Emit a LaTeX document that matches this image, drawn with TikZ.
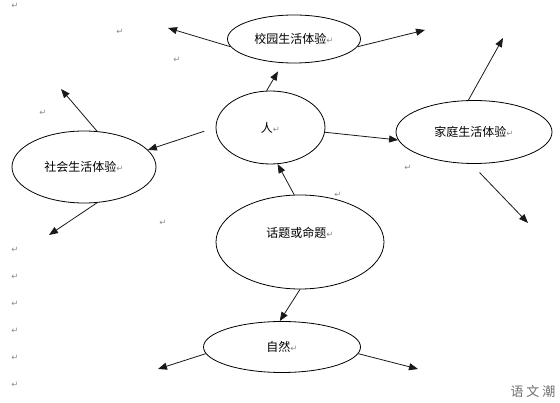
\documentclass[tikz,border=0pt]{standalone}
\usepackage{fontspec}
\usetikzlibrary{shapes.geometric, arrows.meta}
\newfontfamily\cjk{Noto Sans CJK SC}
\newfontfamily\symfont{DejaVu Sans}
\definecolor{markGray}{HTML}{8C8C8C}
\definecolor{wmGray}{HTML}{6E6E6E}
\newcommand{\retmark}{{\symfont\fontsize{8.5}{8.5}\selectfont\textcolor{markGray}{↵}}}
\tikzset{
  >={Triangle[length=9pt, width=7pt]},
  bubble/.style={ellipse, draw, line width=0.8pt, inner sep=0pt,
    font=\cjk\fontsize{12}{12}\selectfont},
  link/.style={->, line width=0.8pt, draw=black!90},
  pmark/.style={font=\symfont\fontsize{8.5}{8.5}\selectfont, text=markGray, inner sep=0pt},
  wmark/.style={font=\cjk\fontsize{13}{13}\selectfont, text=wmGray, inner sep=0pt},
}

\begin{document}
\begin{tikzpicture}[x=1pt, y=-1pt]
  \useasboundingbox (0,0) rectangle (560,403);

  % ---- Nodes -------------------------------------------------------------
  \node[bubble, minimum width=133, minimum height=48] (campus)  at (294,39)    {校园生活体验\retmark};
  \node[bubble, minimum width=109, minimum height=73] (person)  at (270.5,127.5) {人\retmark};
  \node[bubble, minimum width=144, minimum height=72] (society) at (84,167)    {社会生活体验\retmark};
  \node[bubble, minimum width=156, minimum height=63] (family)  at (474,132)   {家庭生活体验\retmark};
  \node[bubble, minimum width=168, minimum height=94, text depth=20pt] (topic) at (300,242) {话题或命题\retmark};
  \node[bubble, minimum width=157, minimum height=51] (nature)  at (282,347)   {自然\retmark};

  % loose arrow ends
  \coordinate (campusNW)  at (168,28);
  \coordinate (campusNE)  at (425,30);
  \coordinate (societyN)  at (61,89);
  \coordinate (societyS)  at (49,235);
  \coordinate (familyN)   at (503,38);
  \coordinate (familyS)   at (528,223);
  \coordinate (natureW)   at (158,369);
  \coordinate (natureE)   at (418,369);

  % ---- Edges -------------------------------------------------------------
  \draw[link] (campus.187) -- (campusNW);
  \draw[link] (campus.353) -- (campusNE);
  \draw[link] (person.96) -- ([shift={(-16,8)}]campus.south);

  \draw[link, shorten <=12pt] (person.180) -- (society.15);
  \draw[link] (society.70)  -- (societyN);
  \draw[link] (society.290) -- (societyS);

  \draw[link] (person.355) -- (family.186);
  \draw[link] (family.100) -- (familyN);
  \draw[link, shorten <=12pt] (family.265) -- (familyS);

  \draw[link] (topic.97)   -- (person.281);
  \draw[link] (topic.south) -- (nature.95);
  \draw[link] (nature.185) -- (natureW);
  \draw[link] (nature.355) -- (natureE);

  % ---- paragraph marks ---------------------------------------------------
  \node[pmark] (pm1)  at (15,6)    {↵};
  \node[pmark] (pm2)  at (120,32)  {↵};
  \node[pmark] (pm3)  at (177,60)  {↵};
  \node[pmark] (pm4)  at (43,113)  {↵};
  \node[pmark] (pm5)  at (163,223) {↵};
  \node[pmark] (pm6)  at (408,168) {↵};
  \node[pmark] (pm7)  at (338,195) {↵};
  \node[pmark] (pm8)  at (15,250)  {↵};
  \node[pmark] (pm9)  at (15,277)  {↵};
  \node[pmark] (pm10) at (15,304)  {↵};
  \node[pmark] (pm11) at (15,331)  {↵};
  \node[pmark] (pm12) at (15,358)  {↵};
  \node[pmark] (pm13) at (15,385)  {↵};

  \node[wmark] (brand) at (533,392) {语\hspace{3pt}文\hspace{3pt}潮};

\end{tikzpicture}
\end{document}
